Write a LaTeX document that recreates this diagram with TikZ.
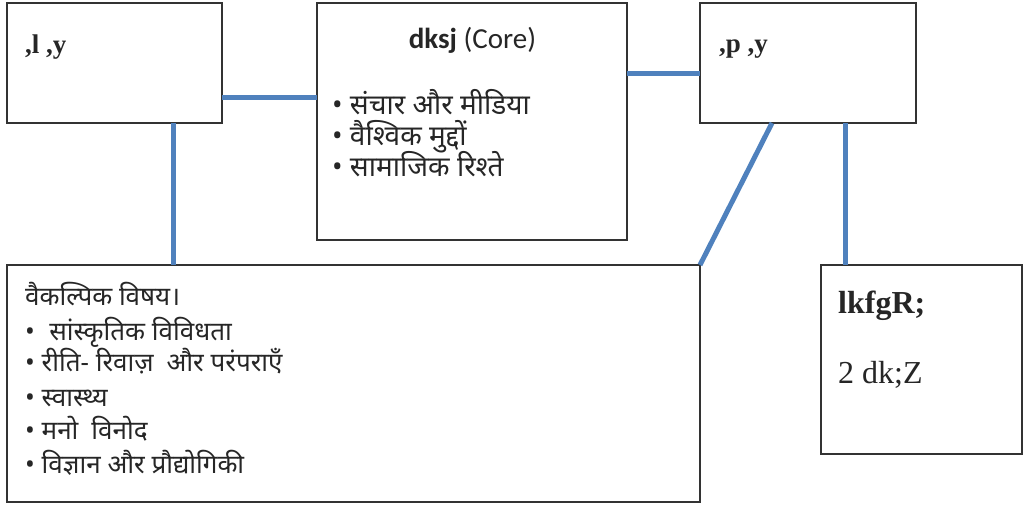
\documentclass[tikz,border=0pt]{standalone}
\usepackage{fontspec}
\setmainfont{Liberation Serif}
\newfontfamily\devafont[Script=Devanagari]{Noto Sans}
\newfontfamily\carlitofont{Carlito}
\definecolor{linkblue}{HTML}{4F81BD}
\begin{document}
\begin{tikzpicture}[x=1pt,y=-1pt,
  box/.style={draw=black!80,line width=1.8pt,fill=white,anchor=north west,inner sep=0pt,outer sep=0pt},
  link/.style={draw=linkblue,line width=5pt},
  txt/.style={anchor=base west,inner sep=0pt,text=black!85},
  kd/.style={txt,font=\fontsize{27}{30}\selectfont\bfseries},
  dv/.style={txt,font=\devafont\fontsize{28}{32}\selectfont},
  dvs/.style={txt,font=\devafont\fontsize{26}{30}\selectfont}]
\useasboundingbox (0,0) rectangle (1025,509);
\node[box,minimum width=215pt,minimum height=120pt] (A) at (7,3) {};
\node[box,minimum width=310pt,minimum height=237pt] (C) at (317,3) {};
\node[box,minimum width=216pt,minimum height=120pt] (P) at (700,3) {};
\node[box,minimum width=693pt,minimum height=237pt] (B) at (7,265) {};
\node[box,minimum width=201pt,minimum height=189pt] (R) at (821,265) {};
% connectors
\draw[link] (A.east |- 0,97) -- (C.west |- 0,97);
\draw[link] (C.east |- 0,73) -- (P.west |- 0,73);
\draw[link] (A.south -| 173,0) -- (B.north -| 173,0);
\draw[link] (P.south -| 772,0) -- (B.north east);
\draw[link] (P.south -| 845,0) -- (R.north -| 845,0);
% texts
\node[kd] (tA) at (25,53) {,l ,y};
\node[kd] (tP) at (719,52) {,p ,y};
\node[txt,anchor=base,font=\carlitofont\fontsize{29}{32}\selectfont] (tC) at (472.5,48) {\textbf{dksj} (Core)};
\node[dv] (c1) at (332,114) {• संचार और मीडिया};
\node[dv] (c2) at (332,145) {• वैश्विक मुद्दों};
\node[dv] (c3) at (332,176) {• सामाजिक रिश्ते};
\node[dvs] (b0) at (25,305) {वैकल्पिक विषय।};
\node[dvs] (b1) at (25,340) {•\hspace{0.55em}सांस्कृतिक विविधता};
\node[dvs] (b2) at (25,371) {• रीति- रिवाज़\hspace{0.5em}और परंपराएँ};
\node[dvs] (b3) at (25,406) {• स्वास्थ्य};
\node[dvs] (b4) at (25,439) {• मनो\hspace{0.5em}विनोद};
\node[dvs] (b5) at (25,473) {• विज्ञान और प्रौद्योगिकी};
\node[kd,font=\fontsize{32}{36}\selectfont\bfseries] (r1) at (838,313) {lkfgR;};
\node[txt,font=\fontsize{32}{36}\selectfont] (r2) at (838,383) {2 dk;Z};
\end{tikzpicture}
\end{document}
